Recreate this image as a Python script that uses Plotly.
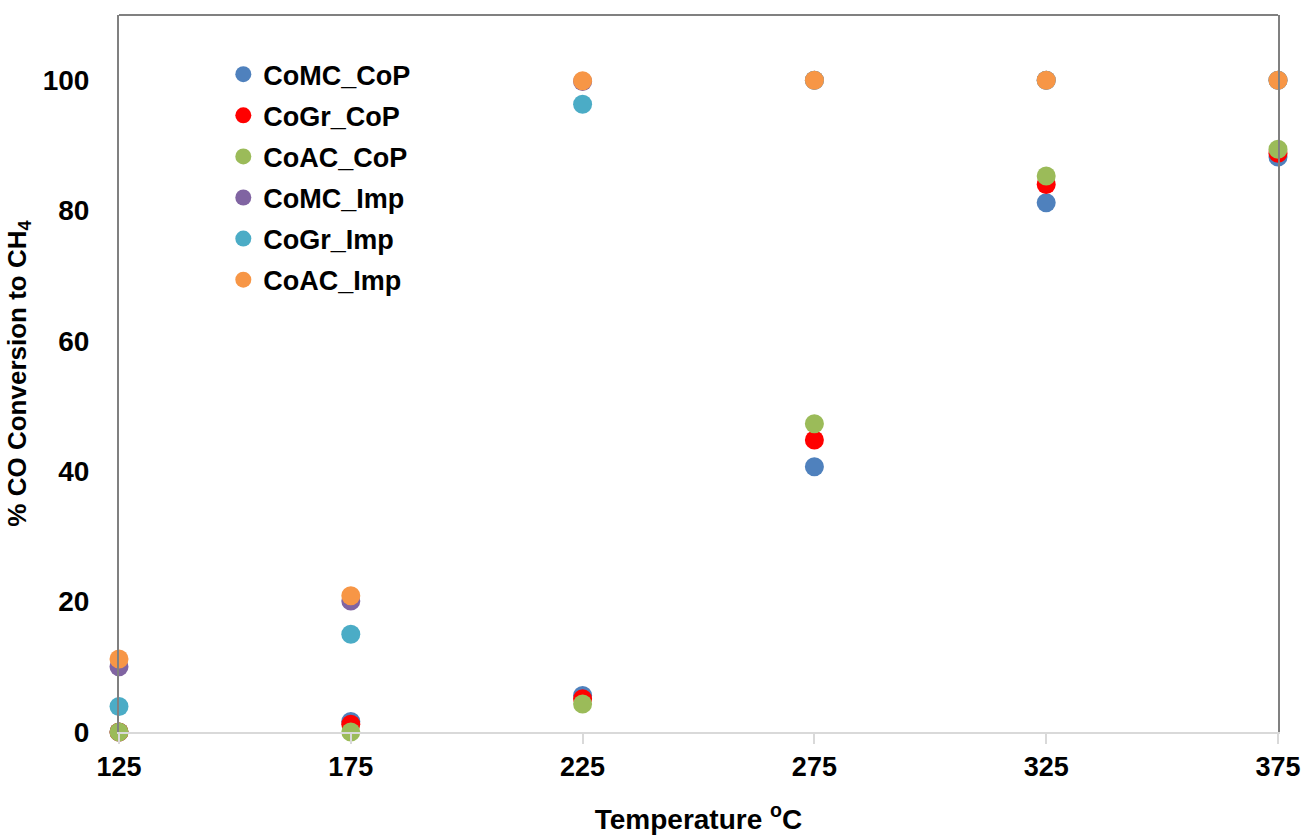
import plotly.graph_objects as go

temps = [125, 175, 225, 275, 325, 375]
series_names = ["CoMC_CoP", "CoGr_CoP", "CoAC_CoP", "CoMC_Imp", "CoGr_Imp", "CoAC_Imp"]
comc_cop = [0, 1.6, 5.6, 40.7, 81.2, 88.2]
cogr_cop = [0, 1.2, 5.1, 44.8, 84.0, 88.8]
coac_cop = [0, 0, 4.3, 47.3, 85.3, 89.4]
comc_imp = [10.0, 20.1, 99.8, 100, 100, 100]
cogr_imp = [3.9, 15.0, 96.3, 100, 100, 100]
coac_imp = [11.2, 20.9, 99.9, 100, 100, 100]
colors = ["#4F81BD", "#FF0000", "#9BBB59", "#8064A2", "#4BACC6", "#F79646"]
values = [comc_cop, cogr_cop, coac_cop, comc_imp, cogr_imp, coac_imp]

fig = go.Figure()
for i in range(len(series_names)):
    fig.add_trace(go.Scatter(
        x=temps, y=values[i], name=series_names[i], mode="markers",
        marker=dict(color=colors[i], size=19, line=dict(width=0)),
        cliponaxis=False, legendgroup=series_names[i],
    ))

fig.update_layout(
    width=1306, height=839,
    margin=dict(l=119, r=28, t=15, b=107),
    paper_bgcolor="white", plot_bgcolor="white",
    font=dict(family="Liberation Sans, Arial", color="black"),
    showlegend=True,
    legend=dict(x=0.09, y=0.951, xanchor="left", yanchor="top",
                font=dict(size=27, family="Liberation Sans, Arial", color="black", weight="bold"),
                bgcolor="rgba(0,0,0,0)", tracegroupgap=3, itemsizing="trace"),
    xaxis=dict(range=[125, 375], tickvals=temps, ticktext=[str(t) for t in temps],
               showgrid=False, zeroline=False, showline=True, linecolor="#D9D9D9", linewidth=1.5,
               ticks="outside", ticklen=10, tickcolor="#D9D9D9", tickwidth=1.5,
               tickfont=dict(size=27, weight="bold", color="black"), automargin=False,
               title=dict(text="Temperature <sup>o</sup>C", font=dict(size=28, weight="bold"), standoff=28)),
    yaxis=dict(range=[0, 110], tickvals=[0, 20, 40, 60, 80, 100],
               showgrid=False, zeroline=False, showline=True, linecolor="#808080", linewidth=2,
               mirror=True, ticks="", ticklabelstandoff=22, automargin=False,
               tickfont=dict(size=28, weight="bold", color="black"),
               title=dict(text="% CO Conversion to CH<sub>4</sub>", font=dict(size=26, weight="bold"), standoff=9)),
    shapes=[dict(type="line", xref="paper", yref="paper", x0=0, x1=1, y0=1, y1=1,
                 line=dict(color="#808080", width=2))],
)

fig.write_html("out.html", config={"displayModeBar": False},
               post_script="document.body.style.margin='0';document.body.style.overflow='hidden';")
